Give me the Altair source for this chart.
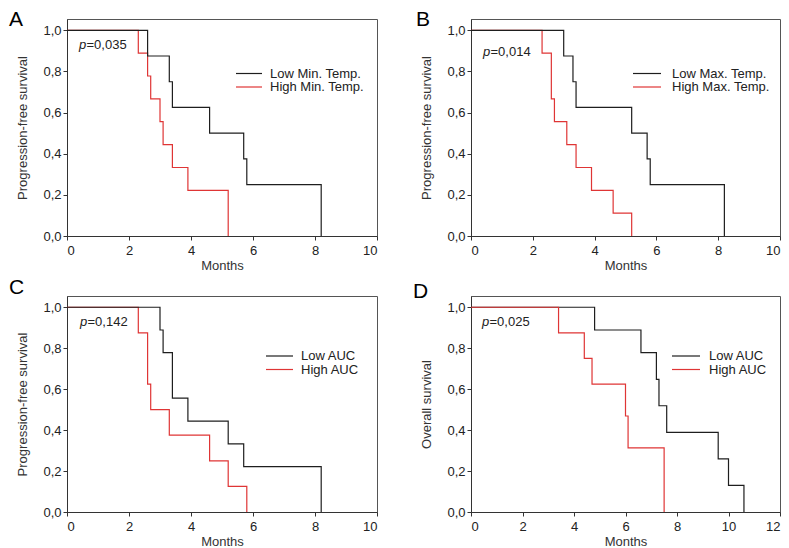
import altair as alt
import pandas as pd

# ---------------- data ----------------
A_low_t = [0, 2.6, 3.3, 3.4, 4.6, 5.7, 5.8, 8.2]
A_low_s = [1.0, 0.875, 0.75, 0.625, 0.5, 0.375, 0.25, 0.0]
A_high_t = [0, 2.3, 2.6, 2.7, 3.0, 3.1, 3.4, 3.9, 5.2]
A_high_s = [1.0, 0.889, 0.778, 0.667, 0.556, 0.444, 0.333, 0.222, 0.0]

B_low_t = [0, 3.0, 3.3, 3.4, 5.2, 5.7, 5.8, 8.2]
B_low_s = [1.0, 0.875, 0.75, 0.625, 0.5, 0.375, 0.25, 0.0]
B_high_t = [0, 2.3, 2.6, 2.7, 3.1, 3.4, 3.9, 4.6, 5.2]
B_high_s = [1.0, 0.889, 0.667, 0.556, 0.444, 0.333, 0.222, 0.111, 0.0]

C_low_t = [0, 3.0, 3.1, 3.4, 3.9, 5.2, 5.7, 8.2]
C_low_s = [1.0, 0.889, 0.778, 0.556, 0.444, 0.333, 0.222, 0.0]
C_high_t = [0, 2.3, 2.6, 2.7, 3.3, 4.6, 5.2, 5.8]
C_high_s = [1.0, 0.875, 0.625, 0.5, 0.375, 0.25, 0.125, 0.0]

D_low_t = [0, 4.8, 6.6, 7.2, 7.3, 7.6, 9.6, 10.0, 10.6]
D_low_s = [1.0, 0.889, 0.778, 0.648, 0.519, 0.389, 0.259, 0.130, 0.0]
D_high_t = [0, 3.4, 4.4, 4.7, 6.0, 6.1, 7.5]
D_high_s = [1.0, 0.875, 0.75, 0.625, 0.469, 0.313, 0.0]

letters = ["A", "B", "C", "D"]
y_titles = ["Progression-free survival", "Progression-free survival",
            "Progression-free survival", "Overall survival"]
p_values = ["=0,035", "=0,014", "=0,142", "=0,025"]
low_labels = ["Low Min. Temp.", "Low Max. Temp.", "Low AUC", "Low AUC"]
high_labels = ["High Min. Temp.", "High Max. Temp.", "High AUC", "High AUC"]
x_max = [10, 10, 10, 12]
x_ticks = [[0, 2, 4, 6, 8, 10], [0, 2, 4, 6, 8, 10], [0, 2, 4, 6, 8, 10],
           [0, 2, 4, 6, 8, 10, 12]]
y_ticks = [0, 0.2, 0.4, 0.6, 0.8, 1.0]

BLACK = "#1e1e1e"
RED = "#df3535"
TXT = "#222222"
FONT = "Liberation Sans"


def panel(i, low_t, low_s, high_t, high_s, w, h, legend_pos, p_pos, letter_pos,
          red_top):
    xs = alt.Scale(domain=[0, x_max[i]], nice=False, zero=True)
    ys = alt.Scale(domain=[0, 1.055], nice=False)
    xaxis = alt.Axis(values=x_ticks[i], format="d", title="Months", grid=False,
                     tickSize=4, labelPadding=4, titlePadding=2)
    yaxis = alt.Axis(values=y_ticks, grid=False, title=y_titles[i], tickSize=4,
                     labelPadding=2, titlePadding=13,
                     labelExpr="replace(format(datum.value, '.1f'), '.', ',')")
    df_low = pd.DataFrame({"t": low_t, "s": low_s})
    df_high = pd.DataFrame({"t": high_t, "s": high_s})
    low = alt.Chart(df_low).mark_line(interpolate="step-after", color=BLACK,
                                      strokeWidth=1.2).encode(
        x=alt.X("t:Q", scale=xs, axis=xaxis),
        y=alt.Y("s:Q", scale=ys, axis=yaxis))
    high = alt.Chart(df_high).mark_line(interpolate="step-after", color=RED,
                                        strokeWidth=1.2).encode(
        x=alt.X("t:Q", scale=xs, axis=xaxis),
        y=alt.Y("s:Q", scale=ys, axis=yaxis))

    lx1, lx2, tx, ly1, ly2 = legend_pos
    leg = []
    for lab, col, yy in [(low_labels[i], BLACK, ly1), (high_labels[i], RED, ly2)]:
        d = pd.DataFrame({"lab": [lab]})
        leg.append(alt.Chart(d).mark_rule(color=col, strokeWidth=1.2).encode(
            x=alt.value(lx1), x2=alt.value(lx2), y=alt.value(yy)))
        leg.append(alt.Chart(d).mark_text(align="left", baseline="middle",
                                          fontSize=13, font=FONT, color=TXT).encode(
            x=alt.value(tx), y=alt.value(yy), text="lab:N"))

    px, py = p_pos
    pd_ = pd.DataFrame({"p": ["p"], "v": [p_values[i]], "L": [letters[i]]})
    ptxt = [
        alt.Chart(pd_).mark_text(align="left", baseline="alphabetic", fontSize=13,
                                 font=FONT, fontStyle="italic", color=TXT).encode(
            x=alt.value(px), y=alt.value(py), text="p:N"),
        alt.Chart(pd_).mark_text(align="left", baseline="alphabetic", fontSize=13,
                                 font=FONT, color=TXT).encode(
            x=alt.value(px + 7.5), y=alt.value(py), text="v:N"),
    ]
    lx, lyb = letter_pos
    let = alt.Chart(pd_).mark_text(align="left", baseline="alphabetic", fontSize=21,
                                   font=FONT, color="#000000").encode(
        x=alt.value(lx), y=alt.value(lyb), text="L:N")
    lines = [low, high] if red_top else [high, low]
    return alt.layer(*lines, *leg, *ptxt, let).properties(width=w, height=h)


pA = panel(0, A_low_t, A_low_s, A_high_t, A_high_s, 310, 217,
           (169, 195, 203, 54.5, 68), (12, 30), (-58, 7), False)
pB = panel(1, B_low_t, B_low_s, B_high_t, B_high_s, 309, 217,
           (162, 190, 201, 54.5, 68), (12, 37), (-55, 7), False)
pC = panel(2, C_low_t, C_low_s, C_high_t, C_high_s, 310, 216,
           (199, 226, 234, 60, 73.5), (13, 30), (-58, -2), False)
pD = panel(3, D_low_t, D_low_s, D_high_t, D_high_s, 309, 216,
           (201, 229, 238, 60, 73.5), (11, 30), (-58, 2), True)

chart = alt.concat(pA, pB, pC, pD, columns=2, spacing={"row": 60, "column": 94},
                   bounds="flush").properties(
    padding={"left": 0, "top": 0, "right": 0, "bottom": 0}
).configure_view(stroke="#555555", strokeWidth=1).configure_axis(
    domainColor="#333333", tickColor="#333333", labelColor=TXT, titleColor="#333333",
    labelFont=FONT, titleFont=FONT, labelFontSize=13, titleFontSize=13,
    titleFontWeight="normal", domainWidth=1
)

chart.save("out.html", embed_options={"renderer": "svg", "actions": False})
